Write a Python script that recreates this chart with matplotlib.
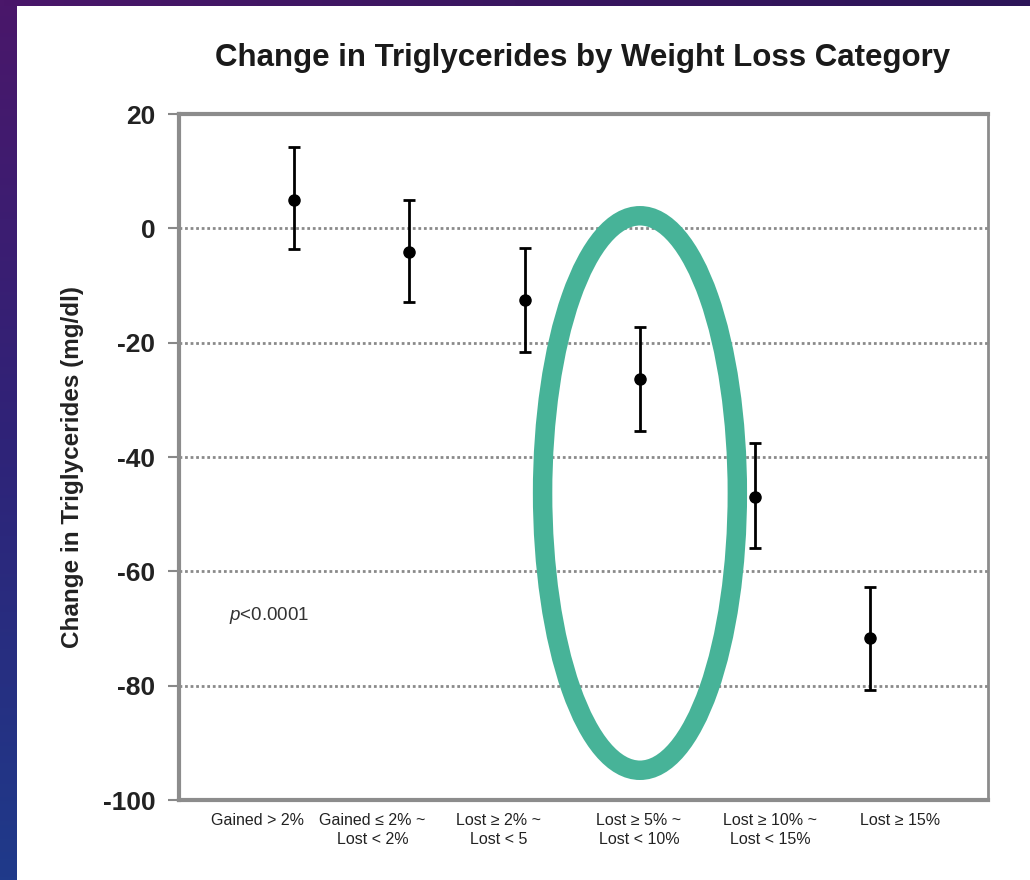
import numpy as np
import matplotlib
matplotlib.use('Agg')
import matplotlib.pyplot as plt
from matplotlib.patches import Ellipse

plt.rcParams['font.family'] = ['Liberation Sans', 'DejaVu Sans']
plt.rcParams['mathtext.fontset'] = 'custom'
plt.rcParams['mathtext.it'] = 'Liberation Sans:italic'

# data
categories = ['Gained > 2%', 'Gained ≤ 2% ~\nLost < 2%', 'Lost ≥ 2% ~\nLost < 5',
              'Lost ≥ 5% ~\nLost < 10%', 'Lost ≥ 10% ~\nLost < 15%', 'Lost ≥ 15%']
means = [5.0, -4.2, -12.6, -26.4, -47.0, -71.7]
upper = [14.2, 4.9, -3.5, -17.3, -37.6, -62.8]
lower = [-3.7, -12.9, -21.7, -35.5, -56.0, -80.8]
yticks = [20, 0, -20, -40, -60, -80, -100]

x = np.arange(1, len(means) + 1)
m = np.array(means)
err = [m - np.array(lower), np.array(upper) - m]

fig = plt.figure(figsize=(10.3, 8.8), dpi=100)
fig.patch.set_facecolor('white')

# slide background strips
left = fig.add_axes([0, 0, 17 / 1030, 1])
grad = np.linspace(0, 1, 256).reshape(-1, 1)
cmap_l = matplotlib.colors.LinearSegmentedColormap.from_list('l', ['#4a176a', '#2f2378', '#1f3a8a'])
left.imshow(grad, aspect='auto', cmap=cmap_l, extent=[0, 1, 0, 1], origin='upper')
left.axis('off')
top = fig.add_axes([0, 1 - 6 / 880, 1, 6 / 880])
cmap_t = matplotlib.colors.LinearSegmentedColormap.from_list('t', ['#4a176a', '#3a1660', '#2c1558'])
top.imshow(grad.T, aspect='auto', cmap=cmap_t, extent=[0, 1, 0, 1])
top.axis('off')

ax = fig.add_axes([179 / 1030, 80 / 880, 809 / 1030, 686 / 880])
ax.errorbar(x, means, yerr=err, fmt='o', color='black', ms=8, elinewidth=2,
            capsize=4.5, capthick=2, zorder=3)

ax.set_xlim(0, 7.02)
ax.set_ylim(-100, 20)
ax.set_yticks(yticks)
ax.set_yticklabels([str(v) for v in yticks], fontsize=19, fontweight='bold', color='#222222')

label_pos = [0.68, 1.68, 2.77, 3.99, 5.13, 6.26]
ax.set_xticks(label_pos)
ax.set_xticklabels(categories, fontsize=11.5, color='#222222', linespacing=1.35)
ax.tick_params(axis='x', length=0, pad=9)
ax.tick_params(axis='y', length=8, width=1.5, color='#888888', pad=9, direction='out')

for v in [0, -20, -40, -60, -80]:
    ax.axhline(v, color='#8a8a8a', lw=2, ls=(0, (1, 1)), zorder=1)

for s in ax.spines.values():
    s.set_color('#8c8c8c')
    s.set_linewidth(2)
ax.spines['left'].set_linewidth(3)
ax.spines['bottom'].set_linewidth(3)
ax.spines['top'].set_linewidth(3)

ax.set_ylabel('Change in Triglycerides (mg/dl)', fontsize=17.5, fontweight='bold',
              color='#222222')
ax.yaxis.set_label_coords(-0.117, 0.485)
fig.text(583 / 1030, 1 - 58 / 880, 'Change in Triglycerides by Weight Loss Category',
         fontsize=22.5, fontweight='bold', color='#1a1a1a', ha='center', va='center')

ax.text(0.43, -67.8, r'$p$<0.0001', fontsize=13.5, color='#333333', va='center')

ell = Ellipse((4.0, -46.3), 1.69, 97, fill=False, ec='#47b398', lw=14, zorder=5, clip_on=False)
ax.add_patch(ell)

fig.savefig('out.png', dpi=100, facecolor='white')
